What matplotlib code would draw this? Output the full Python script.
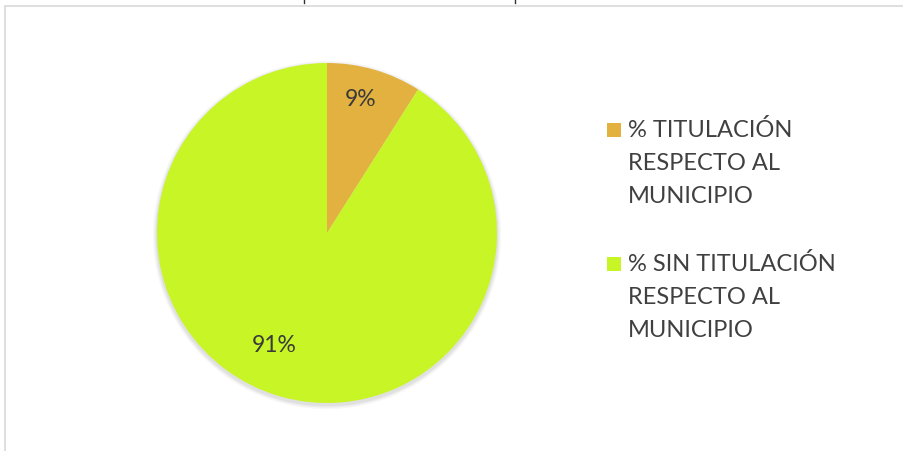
import matplotlib
matplotlib.use("Agg")
import matplotlib.pyplot as plt
from matplotlib.patches import Rectangle, Circle
from matplotlib.lines import Line2D

labels = ["% TITULACIÓN\nRESPECTO AL\nMUNICIPIO", "% SIN TITULACIÓN\nRESPECTO AL\nMUNICIPIO"]
values = [9, 91]
colors = ["#E3B13F", "#C8F526"]

W, H = 904, 452
fig = plt.figure(figsize=(W / 100, H / 100), dpi=100)
plt.rcParams['font.family'] = ['Lato', 'DejaVu Sans']

def fx(x):
    return x / W

def fy(y):
    return 1 - y / H

# outer frame
fig.add_artist(Rectangle((fx(5), fy(460)), fx(910) - fx(5), fy(7) - fy(460),
                         transform=fig.transFigure, fill=False, edgecolor="#d9d9d9", lw=1.2))
for x in (304, 515):
    fig.add_artist(Line2D([fx(x), fx(x)], [fy(0), fy(4)], transform=fig.transFigure,
                          color="#333333", lw=1))

cx, cy, r = 327, 234, 170
ax = fig.add_axes([fx(cx - r), fy(cy + r), 2 * r / W, 2 * r / H])

wedges, texts, autotexts = ax.pie(values, colors=colors, startangle=90, counterclock=False,
                                   radius=1.0, autopct='%1.0f%%', pctdistance=0.8,
                                   wedgeprops=dict(linewidth=0),
                                   textprops=dict(fontsize=16.5, color="#3a3a3a"))
ax.set_xlim(-1, 1)
ax.set_ylim(-1, 1)
ax.set_aspect('equal')
ax.axis('off')

# soft shadow
for i, a in enumerate([0.05, 0.04, 0.03]):
    ax.add_patch(Circle((0.0, -0.012), 1.0 + 0.008 * (i + 1), color="#000000", alpha=a, lw=0, zorder=0,
                        clip_on=False))

for w in wedges:
    w.set_zorder(2)
autotexts[0].set_position(((361 - cx) / r, -(100 - cy) / r))
autotexts[1].set_position(((274 - cx) / r, -(346 - cy) / r))
for t in autotexts:
    t.set_zorder(3)

# legend
entries_y = [131, 265]
for lab, col, y in zip(labels, colors, entries_y):
    fig.add_artist(Rectangle((fx(607), fy(y + 7)), 14 / W, 14 / H, transform=fig.transFigure,
                             facecolor=col, edgecolor='none'))
    fig.text(fx(628), fy(y - 12), lab, ha='left', va='top', fontsize=17, color="#404040",
             linespacing=1.72)

fig.savefig("out.png", dpi=100)
